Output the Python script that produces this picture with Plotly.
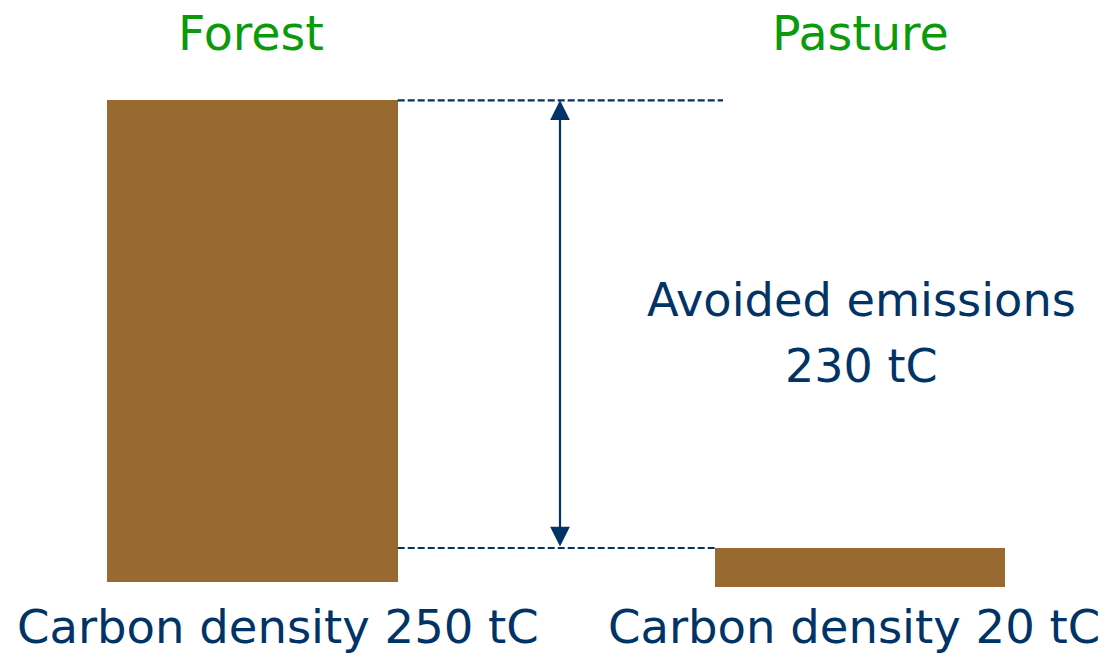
import plotly.graph_objects as go

# ---- data ----
categories = ["Forest", "Pasture"]
carbon_density = [250, 20]          # tC
bar_base = [0, -2.5]                # small visual offset of the pasture bar
bottom_labels = ["Carbon density 250 tC", "Carbon density 20 tC"]
avoided = carbon_density[0] - carbon_density[1]   # 230 tC

BAR = "#986A31"
NAVY = "#003366"
GREEN = "#0A9A0A"
FONT = "DejaVu Sans"

W, H = 1115, 660
xpos = [0, 1]
bar_w = 0.4784

fig = go.Figure()
fig.add_trace(go.Bar(
    x=xpos, y=carbon_density, base=bar_base, width=bar_w,
    marker=dict(color=BAR, line=dict(width=0)), hoverinfo="skip", showlegend=False,
))

top_forest = bar_base[0] + carbon_density[0]
top_pasture = bar_base[1] + carbon_density[1]

# dashed guide lines
fig.add_shape(type="line", xref="x", yref="y",
              x0=xpos[0] + bar_w / 2, x1=0.7745, y0=top_forest, y1=top_forest,
              line=dict(color=NAVY, width=2.2, dash="7px,3px"))
fig.add_shape(type="line", xref="x", yref="y",
              x0=xpos[0] + bar_w / 2, x1=xpos[1] - bar_w / 2, y0=top_pasture, y1=top_pasture,
              line=dict(color=NAVY, width=2.2, dash="7px,3px"))

# double-headed arrow
arrow_x = 0.5063
fig.add_annotation(x=arrow_x, y=top_forest, ax=arrow_x, ay=top_pasture,
                   xref="x", yref="y", axref="x", ayref="y", text="",
                   showarrow=True, arrowhead=2, startarrowhead=2, arrowside="end+start",
                   arrowsize=1.8, startarrowsize=1.8, arrowwidth=2.2, arrowcolor=NAVY)

def px(xp, yp):
    return xp / W, 1 - yp / H

# category titles
for name, cx in zip(categories, [251, 860]):
    x, y = px(cx, 33)
    fig.add_annotation(x=x, y=y, xref="paper", yref="paper", text=name, showarrow=False,
                       font=dict(family=FONT, size=47.5, color=GREEN), xanchor="center", yanchor="middle")

# bottom labels
for lab, cx in zip(bottom_labels, [278, 854]):
    x, y = px(cx, 627)
    fig.add_annotation(x=x, y=y, xref="paper", yref="paper", text=lab, showarrow=False,
                       font=dict(family=FONT, size=46.5, color=NAVY), xanchor="center", yanchor="middle")

# avoided emissions
x, y = px(861, 300)
fig.add_annotation(x=x, y=y, xref="paper", yref="paper", text="Avoided emissions", showarrow=False,
                   font=dict(family=FONT, size=46.3, color=NAVY), xanchor="center", yanchor="middle")
x, y = px(861, 366)
fig.add_annotation(x=x, y=y, xref="paper", yref="paper", text=f"{avoided} tC", showarrow=False,
                   font=dict(family=FONT, size=46, color=NAVY), xanchor="center", yanchor="middle")

scale = 481.4 / 250.0
y_top = 581.7 / scale
y_bot = -(H - 581.7) / scale
fig.update_layout(
    width=W, height=H, margin=dict(l=0, r=0, t=0, b=0),
    paper_bgcolor="white", plot_bgcolor="white",
    xaxis=dict(range=[-252.35 / 607.65, 1 + 255 / 607.65], visible=False, fixedrange=True),
    yaxis=dict(range=[y_bot, y_top], visible=False, fixedrange=True),
    bargap=0, showlegend=False,
)
fig.write_html("out.html", config={"displayModeBar": False},
               post_script="document.body.style.margin='0';document.body.style.overflow='hidden';")
